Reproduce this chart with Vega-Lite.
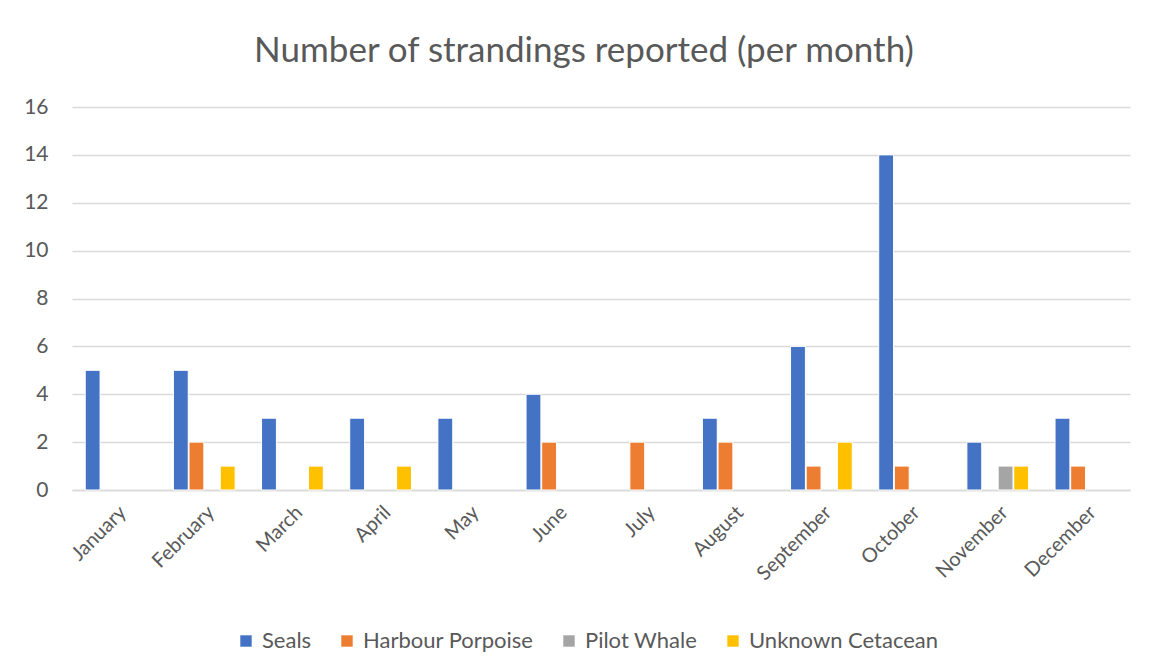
{
  "$schema": "https://vega.github.io/schema/vega-lite/v6.json",
  "width": 1058,
  "height": 383,
  "autosize": {"type": "none"},
  "padding": {"left": 72, "top": 107, "right": 22, "bottom": 181},
  "background": "white",
  "title": {
    "text": "Number of strandings reported (per month)",
    "font": "Lato",
    "fontSize": 35,
    "fontWeight": "normal",
    "color": "#595959",
    "anchor": "middle",
    "dx": -17,
    "offset": 27
  },
  "data": {
    "values": [
      {"month": "January", "species": "Seals", "count": 5},
      {"month": "February", "species": "Seals", "count": 5},
      {"month": "February", "species": "Harbour Porpoise", "count": 2},
      {"month": "February", "species": "Unknown Cetacean", "count": 1},
      {"month": "March", "species": "Seals", "count": 3},
      {"month": "March", "species": "Unknown Cetacean", "count": 1},
      {"month": "April", "species": "Seals", "count": 3},
      {"month": "April", "species": "Unknown Cetacean", "count": 1},
      {"month": "May", "species": "Seals", "count": 3},
      {"month": "June", "species": "Seals", "count": 4},
      {"month": "June", "species": "Harbour Porpoise", "count": 2},
      {"month": "July", "species": "Harbour Porpoise", "count": 2},
      {"month": "August", "species": "Seals", "count": 3},
      {"month": "August", "species": "Harbour Porpoise", "count": 2},
      {"month": "September", "species": "Seals", "count": 6},
      {"month": "September", "species": "Harbour Porpoise", "count": 1},
      {"month": "September", "species": "Unknown Cetacean", "count": 2},
      {"month": "October", "species": "Seals", "count": 14},
      {"month": "October", "species": "Harbour Porpoise", "count": 1},
      {"month": "November", "species": "Seals", "count": 2},
      {"month": "November", "species": "Pilot Whale", "count": 1},
      {"month": "November", "species": "Unknown Cetacean", "count": 1},
      {"month": "December", "species": "Seals", "count": 3},
      {"month": "December", "species": "Harbour Porpoise", "count": 1}
    ]
  },
  "mark": {"type": "bar", "stroke": "white", "strokeWidth": 1},
  "encoding": {
    "x": {
      "field": "month",
      "type": "nominal",
      "sort": null,
      "scale": {
        "domain": ["January", "February", "March", "April", "May", "June", "July", "August", "September", "October", "November", "December"],
        "paddingInner": 0.3,
        "paddingOuter": 0.15
      },
      "axis": {
        "title": null,
        "labelAngle": -45,
        "labelFont": "Lato",
        "labelFontSize": 20,
        "labelColor": "#595959",
        "labelPadding": 12,
        "labelDx": -5,
        "ticks": false,
        "domainColor": "#d9d9d9",
        "domainWidth": 1.5
      }
    },
    "xOffset": {
      "field": "species",
      "type": "nominal",
      "scale": {
        "domain": ["Seals", "Harbour Porpoise", "Pilot Whale", "Unknown Cetacean"],
        "paddingInner": 0.05
      }
    },
    "y": {
      "field": "count",
      "type": "quantitative",
      "scale": {"domain": [0, 16]},
      "axis": {
        "title": null,
        "values": [0, 2, 4, 6, 8, 10, 12, 14, 16],
        "labelFont": "Lato",
        "labelFontSize": 21,
        "labelColor": "#595959",
        "labelPadding": 24,
        "ticks": false,
        "domain": false,
        "grid": true,
        "gridColor": "#d9d9d9",
        "gridWidth": 1.5
      }
    },
    "color": {
      "field": "species",
      "type": "nominal",
      "scale": {
        "domain": ["Seals", "Harbour Porpoise", "Pilot Whale", "Unknown Cetacean"],
        "range": ["#4472C4", "#ED7D31", "#A5A5A5", "#FFC000"]
      },
      "legend": {
        "title": null,
        "orient": "none",
        "direction": "horizontal",
        "legendX": 163,
        "legendY": 523,
        "symbolType": "square",
        "symbolSize": 130,
        "symbolStrokeWidth": 0,
        "labelFont": "Lato",
        "labelFontSize": 22,
        "labelLimit": 0,
        "labelColor": "#595959",
        "labelOffset": 5,
        "columnPadding": 24
      }
    }
  },
  "config": {
    "view": {"stroke": null}
  }
}
